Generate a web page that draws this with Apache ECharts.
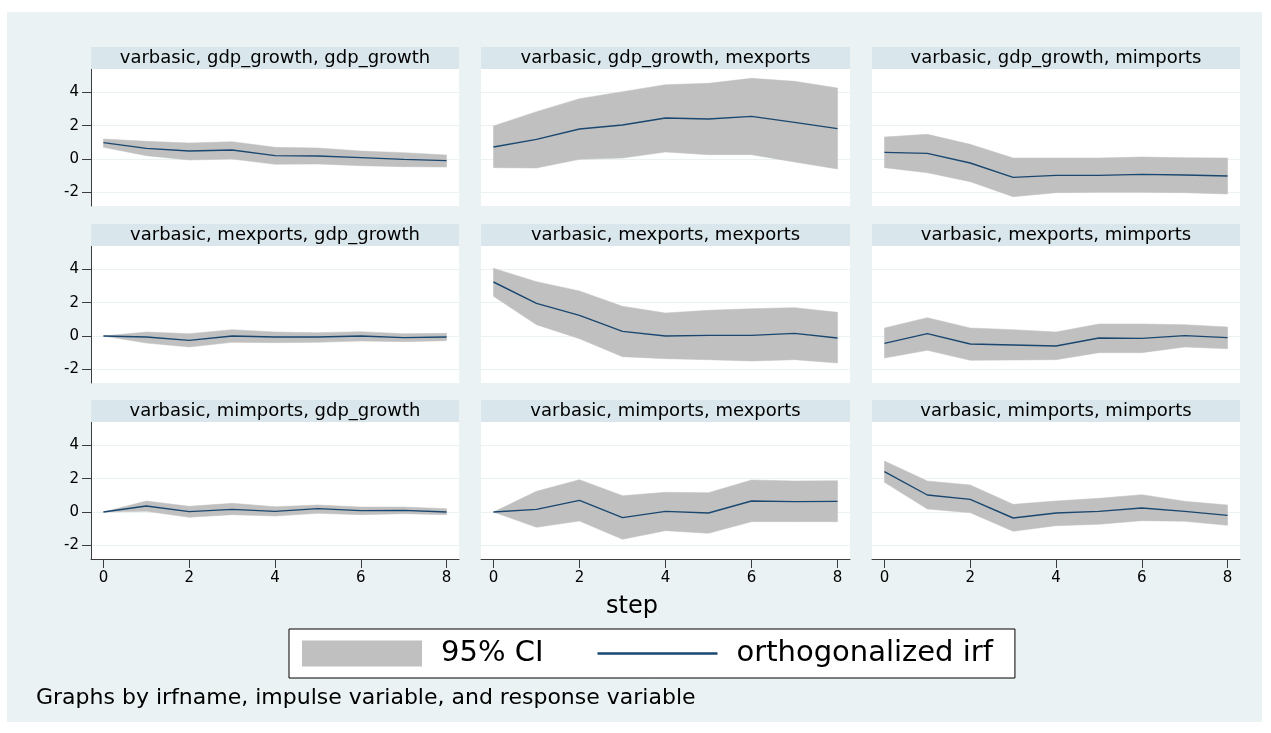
<!DOCTYPE html>
<html>
<head>
<meta charset="utf-8">
<script src="https://cdn.jsdelivr.net/npm/echarts@6/dist/echarts.min.js"></script>
<style>
html,body{margin:0;padding:0;background:#ffffff;}
#chart{width:1271px;height:733px;}
</style>
</head>
<body>
<div id="chart"></div>
<script>
// ---------------- data ----------------
const steps = [0, 1, 2, 3, 4, 5, 6, 7, 8];
const xTickValues = [0, 2, 4, 6, 8];
const yTickValues = [-2, 0, 2, 4];

const panelTitles = [
  'varbasic, gdp_growth, gdp_growth',
  'varbasic, gdp_growth, mexports',
  'varbasic, gdp_growth, mimports',
  'varbasic, mexports, gdp_growth',
  'varbasic, mexports, mexports',
  'varbasic, mexports, mimports',
  'varbasic, mimports, gdp_growth',
  'varbasic, mimports, mexports',
  'varbasic, mimports, mimports'
];

// gdp_growth -> gdp_growth
const irfGdpGdp = [0.98, 0.64, 0.48, 0.54, 0.20, 0.18, 0.08, -0.02, -0.10];
const hiGdpGdp  = [1.20, 1.06, 0.96, 1.04, 0.70, 0.66, 0.48, 0.38, 0.24];
const loGdpGdp  = [0.70, 0.20, -0.06, 0.00, -0.32, -0.30, -0.40, -0.46, -0.48];
// gdp_growth -> mexports
const irfGdpExp = [0.72, 1.18, 1.80, 2.04, 2.46, 2.40, 2.56, 2.20, 1.82];
const hiGdpExp  = [1.98, 2.84, 3.62, 4.04, 4.46, 4.54, 4.84, 4.66, 4.26];
const loGdpExp  = [-0.52, -0.54, -0.02, 0.06, 0.42, 0.26, 0.26, -0.18, -0.60];
// gdp_growth -> mimports
const irfGdpImp = [0.40, 0.34, -0.24, -1.10, -0.98, -0.98, -0.92, -0.96, -1.02];
const hiGdpImp  = [1.32, 1.48, 0.88, 0.06, 0.06, 0.06, 0.12, 0.08, 0.06];
const loGdpImp  = [-0.52, -0.82, -1.36, -2.26, -2.02, -2.00, -2.00, -2.02, -2.10];
// mexports -> gdp_growth
const irfExpGdp = [0.00, -0.06, -0.26, 0.00, -0.06, -0.06, 0.00, -0.10, -0.06];
const hiExpGdp  = [0.00, 0.24, 0.14, 0.38, 0.24, 0.20, 0.26, 0.14, 0.16];
const loExpGdp  = [0.00, -0.42, -0.66, -0.38, -0.40, -0.38, -0.30, -0.34, -0.28];
// mexports -> mexports
const irfExpExp = [3.24, 1.96, 1.24, 0.28, 0.00, 0.04, 0.04, 0.16, -0.12];
const hiExpExp  = [4.06, 3.26, 2.70, 1.78, 1.38, 1.54, 1.64, 1.70, 1.42];
const loExpExp  = [2.38, 0.68, -0.16, -1.24, -1.36, -1.42, -1.50, -1.42, -1.62];
// mexports -> mimports
const irfExpImp = [-0.44, 0.14, -0.48, -0.54, -0.60, -0.12, -0.14, 0.02, -0.10];
const hiExpImp  = [0.48, 1.10, 0.48, 0.38, 0.24, 0.72, 0.72, 0.68, 0.54];
const loExpImp  = [-1.32, -0.86, -1.46, -1.44, -1.42, -1.00, -1.00, -0.66, -0.76];
// mimports -> gdp_growth
const irfImpGdp = [0.00, 0.36, 0.02, 0.16, 0.04, 0.20, 0.08, 0.10, 0.00];
const hiImpGdp  = [0.00, 0.66, 0.34, 0.52, 0.32, 0.42, 0.30, 0.30, 0.20];
const loImpGdp  = [0.00, 0.04, -0.32, -0.16, -0.24, -0.08, -0.16, -0.10, -0.16];
// mimports -> mexports
const irfImpExp = [0.00, 0.16, 0.70, -0.34, 0.04, -0.06, 0.66, 0.62, 0.64];
const hiImpExp  = [0.00, 1.24, 1.94, 0.98, 1.18, 1.16, 1.92, 1.86, 1.88];
const loImpExp  = [0.00, -0.92, -0.54, -1.64, -1.12, -1.28, -0.58, -0.58, -0.58];
// mimports -> mimports
const irfImpImp = [2.42, 1.02, 0.76, -0.36, -0.06, 0.04, 0.24, 0.04, -0.20];
const hiImpImp  = [3.06, 1.86, 1.62, 0.46, 0.66, 0.82, 1.04, 0.64, 0.42];
const loImpImp  = [1.78, 0.18, -0.04, -1.16, -0.82, -0.74, -0.52, -0.56, -0.80];

const legendNames = ['95% CI', 'orthogonalized irf'];
const xAxisTitle = 'step';
const noteText = 'Graphs by irfname, impulse variable, and response variable';

// ---------------- layout / style ----------------
const FONT = 'DejaVu Sans, Liberation Sans, Arial, sans-serif';
const panels = [
  [irfGdpGdp, loGdpGdp, hiGdpGdp], [irfGdpExp, loGdpExp, hiGdpExp], [irfGdpImp, loGdpImp, hiGdpImp],
  [irfExpGdp, loExpGdp, hiExpGdp], [irfExpExp, loExpExp, hiExpExp], [irfExpImp, loExpImp, hiExpImp],
  [irfImpGdp, loImpGdp, hiImpGdp], [irfImpExp, loImpExp, hiImpExp], [irfImpImp, loImpImp, hiImpImp]
];
const colLeft = [91, 481, 872];
const colWidth = [368, 369, 368];
const rowTop = [69, 246, 422];
const rowHeight = 137;
const stripH = 22;
const BAND = '#c0c0c0';
const LINE = '#1a476f';
const GRID = '#eaf2f3';
const STRIP = '#d9e6eb';
const OUTER = '#eaf2f3';
const AXIS = '#3c3c3c';

const grids = [], xAxes = [], yAxes = [], series = [];
const graphics = [
  {type: 'rect', z: -100, shape: {x: 7, y: 12, width: 1255, height: 710}, style: {fill: OUTER}}
];

panels.forEach(function (p, i) {
  const r = Math.floor(i / 3), c = i % 3;
  const irf = p[0], lo = p[1], hi = p[2];
  grids.push({
    left: colLeft[c], top: rowTop[r], width: colWidth[c], height: rowHeight,
    show: true, backgroundColor: '#ffffff', borderWidth: 0, containLabel: false
  });
  const bottomRow = r === 2, leftCol = c === 0;
  xAxes.push({
    type: 'value', gridIndex: i, min: -0.29, max: 8.29,
    axisLine: {show: bottomRow, onZero: false, lineStyle: {color: AXIS, width: 1}},
    axisTick: {show: bottomRow, length: 9, customValues: xTickValues, lineStyle: {color: AXIS}},
    axisLabel: {show: bottomRow, customValues: xTickValues, margin: 12, color: '#000', fontSize: 15, fontFamily: FONT},
    splitLine: {show: false}
  });
  yAxes.push({
    type: 'value', gridIndex: i, min: -2.82, max: 5.4,
    axisLine: {show: leftCol, onZero: false, lineStyle: {color: AXIS, width: 1}},
    axisTick: {show: leftCol, length: 9, customValues: yTickValues, lineStyle: {color: AXIS}},
    axisLabel: {show: leftCol, customValues: yTickValues, margin: 12, color: '#000', fontSize: 15, fontFamily: FONT},
    splitLine: {show: true, lineStyle: {color: GRID, width: 1}}
  });
  series.push({
    type: 'custom', name: legendNames[0], xAxisIndex: i, yAxisIndex: i, z: 1, silent: true,
    itemStyle: {color: BAND},
    data: steps.map(function (s, k) { return [s, lo[k], hi[k]]; }),
    encode: {x: 0, y: [1, 2]},
    renderItem: function (params, api) {
      if (params.dataIndex !== 0) return null;
      const top = steps.map(function (s, k) { return api.coord([s, hi[k]]); });
      const bot = steps.map(function (s, k) { return api.coord([s, lo[k]]); }).reverse();
      return {type: 'polygon', shape: {points: top.concat(bot)}, style: {fill: BAND, stroke: BAND, lineWidth: 0.5}};
    }
  });
  series.push({
    type: 'line', name: legendNames[1], xAxisIndex: i, yAxisIndex: i, z: 3, silent: true,
    symbol: 'none', color: LINE, lineStyle: {color: LINE, width: 1.4},
    data: steps.map(function (s, k) { return [s, irf[k]]; })
  });
  // strip title
  graphics.push({
    type: 'rect', z: 5,
    shape: {x: colLeft[c], y: rowTop[r] - stripH, width: colWidth[c], height: stripH},
    style: {fill: STRIP}
  });
  graphics.push({
    type: 'text', z: 6,
    x: colLeft[c] + colWidth[c] / 2, y: rowTop[r] - stripH / 2,
    style: {text: panelTitles[i], fill: '#000', font: '18px ' + FONT, textAlign: 'center', textVerticalAlign: 'middle'}
  });
});

graphics.push({
  type: 'text', z: 6, x: 632, y: 607,
  style: {text: xAxisTitle, fill: '#000', font: '24px ' + FONT, textAlign: 'center', textVerticalAlign: 'middle'}
});
graphics.push({
  type: 'text', z: 6, x: 36, y: 698,
  style: {text: noteText, fill: '#000', font: '22px ' + FONT, textAlign: 'left', textVerticalAlign: 'middle'}
});

const option = {
  backgroundColor: '#ffffff',
  animation: false,
  grid: grids,
  xAxis: xAxes,
  yAxis: yAxes,
  series: series,
  graphic: graphics,
  legend: {
    left: 289, top: 629, orient: 'horizontal',
    itemWidth: 120, itemHeight: 26, itemGap: 54,
    padding: [10, 22, 10, 13],
    borderColor: '#000', borderWidth: 1, backgroundColor: '#ffffff',
    selectedMode: false,
    symbolKeepAspect: true,
    textStyle: {color: '#000', fontSize: 29, fontFamily: FONT, lineHeight: 26, padding: [2, 0, 0, 14]},
    data: [
      {name: legendNames[0], icon: 'rect', itemStyle: {color: BAND}},
      {name: legendNames[1], icon: 'path://M0,0H120V2.5H0Z', itemStyle: {color: LINE}}
    ]
  }
};

const chart = echarts.init(document.getElementById('chart'), null, {renderer: 'canvas'});
chart.setOption(option);
</script>
</body>
</html>
